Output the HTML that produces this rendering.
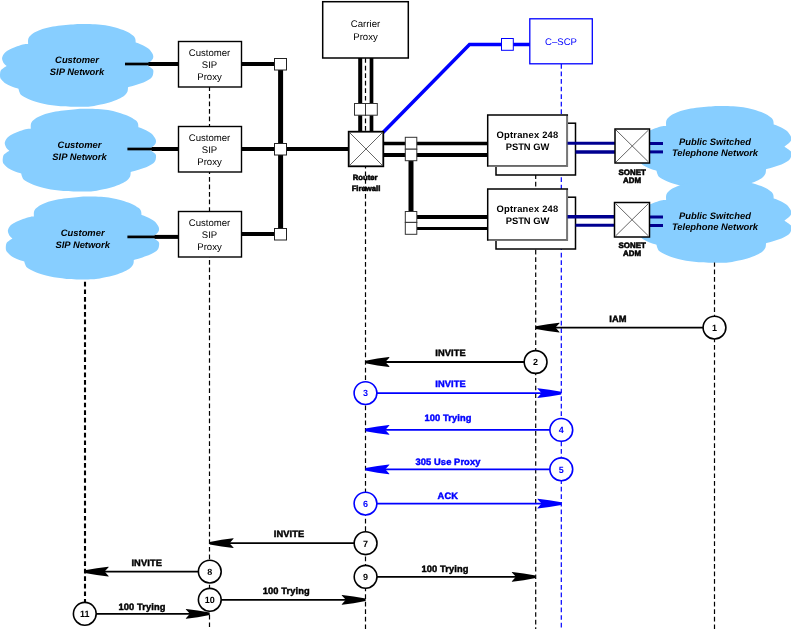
<!DOCTYPE html>
<html><head><meta charset="utf-8"><style>
html,body{margin:0;padding:0;background:#fff;width:791px;height:629px;overflow:hidden}
svg{display:block;will-change:transform}
text{font-family:"Liberation Sans",sans-serif;text-rendering:geometricPrecision}
</style></head><body>
<svg width="791" height="629" viewBox="0 0 791 629">
<path transform="translate(0,0)" fill="#87ceff" d="M28.1,44.0C28.12,43.20 27.83,40.58 28.20,39.20C28.57,37.82 29.10,36.88 30.30,35.70C31.50,34.52 33.37,33.20 35.40,32.10C37.43,31.00 39.97,29.93 42.50,29.10C45.03,28.27 47.57,27.68 50.60,27.10C53.63,26.52 57.33,26.02 60.70,25.60C64.07,25.18 67.58,24.87 70.80,24.60C74.02,24.33 75.93,24.07 80.00,24.00C84.07,23.93 90.98,23.98 95.20,24.20C99.42,24.42 101.93,24.73 105.30,25.30C108.67,25.87 112.03,26.63 115.40,27.60C118.77,28.57 122.63,29.83 125.50,31.10C128.37,32.37 131.00,34.02 132.60,35.20C134.20,36.38 134.58,36.98 135.10,38.20C135.62,39.42 135.60,41.78 135.70,42.50C136.68,42.87 139.50,43.70 141.60,44.70C143.70,45.70 146.55,47.12 148.30,48.50C150.05,49.88 151.27,51.67 152.10,53.00C152.93,54.33 153.32,55.33 153.30,56.50C153.28,57.67 153.15,58.63 152.00,60.00C150.85,61.37 147.33,63.92 146.40,64.70C147.42,65.42 151.35,67.70 152.50,69.00C153.65,70.30 153.42,71.13 153.30,72.50C153.18,73.87 153.10,75.70 151.80,77.20C150.50,78.70 148.03,80.23 145.50,81.50C142.97,82.77 139.52,83.83 136.60,84.80C133.68,85.77 129.43,86.88 128.00,87.30C127.92,87.98 128.08,90.05 127.50,91.40C126.92,92.75 126.02,94.15 124.50,95.40C122.98,96.65 120.93,97.72 118.40,98.90C115.87,100.08 112.67,101.48 109.30,102.50C105.93,103.52 101.40,104.33 98.20,105.00C95.00,105.67 93.13,106.20 90.10,106.50C87.07,106.80 84.90,106.83 80.00,106.80C75.10,106.77 66.62,106.77 60.70,106.30C54.78,105.83 49.05,104.88 44.50,104.00C39.95,103.12 36.43,102.02 33.40,101.00C30.37,99.98 28.33,98.92 26.30,97.90C24.27,96.88 22.38,95.98 21.20,94.90C20.02,93.82 19.65,92.42 19.20,91.40C18.75,90.38 18.62,89.23 18.50,88.80C17.27,88.38 13.17,87.13 11.10,86.30C9.03,85.47 7.45,84.65 6.10,83.80C4.75,82.95 3.98,82.25 3.00,81.20C2.02,80.15 0.62,79.18 0.20,77.50C-0.22,75.82 0.03,72.60 0.50,71.10C0.97,69.60 1.98,69.35 3.00,68.50C4.02,67.65 6.00,66.42 6.60,66.00C6.17,65.58 4.73,64.60 4.00,63.50C3.27,62.40 2.45,60.58 2.20,59.40C1.95,58.22 2.02,57.57 2.50,56.40C2.98,55.23 3.83,53.58 5.10,52.40C6.37,51.22 8.08,50.32 10.10,49.30C12.12,48.28 14.83,47.13 17.20,46.30C19.57,45.47 22.48,44.68 24.30,44.30C26.12,43.92 27.47,44.05 28.10,44.00Z"/>
<path transform="translate(2.7,84.8)" fill="#87ceff" d="M28.1,44.0C28.12,43.20 27.83,40.58 28.20,39.20C28.57,37.82 29.10,36.88 30.30,35.70C31.50,34.52 33.37,33.20 35.40,32.10C37.43,31.00 39.97,29.93 42.50,29.10C45.03,28.27 47.57,27.68 50.60,27.10C53.63,26.52 57.33,26.02 60.70,25.60C64.07,25.18 67.58,24.87 70.80,24.60C74.02,24.33 75.93,24.07 80.00,24.00C84.07,23.93 90.98,23.98 95.20,24.20C99.42,24.42 101.93,24.73 105.30,25.30C108.67,25.87 112.03,26.63 115.40,27.60C118.77,28.57 122.63,29.83 125.50,31.10C128.37,32.37 131.00,34.02 132.60,35.20C134.20,36.38 134.58,36.98 135.10,38.20C135.62,39.42 135.60,41.78 135.70,42.50C136.68,42.87 139.50,43.70 141.60,44.70C143.70,45.70 146.55,47.12 148.30,48.50C150.05,49.88 151.27,51.67 152.10,53.00C152.93,54.33 153.32,55.33 153.30,56.50C153.28,57.67 153.15,58.63 152.00,60.00C150.85,61.37 147.33,63.92 146.40,64.70C147.42,65.42 151.35,67.70 152.50,69.00C153.65,70.30 153.42,71.13 153.30,72.50C153.18,73.87 153.10,75.70 151.80,77.20C150.50,78.70 148.03,80.23 145.50,81.50C142.97,82.77 139.52,83.83 136.60,84.80C133.68,85.77 129.43,86.88 128.00,87.30C127.92,87.98 128.08,90.05 127.50,91.40C126.92,92.75 126.02,94.15 124.50,95.40C122.98,96.65 120.93,97.72 118.40,98.90C115.87,100.08 112.67,101.48 109.30,102.50C105.93,103.52 101.40,104.33 98.20,105.00C95.00,105.67 93.13,106.20 90.10,106.50C87.07,106.80 84.90,106.83 80.00,106.80C75.10,106.77 66.62,106.77 60.70,106.30C54.78,105.83 49.05,104.88 44.50,104.00C39.95,103.12 36.43,102.02 33.40,101.00C30.37,99.98 28.33,98.92 26.30,97.90C24.27,96.88 22.38,95.98 21.20,94.90C20.02,93.82 19.65,92.42 19.20,91.40C18.75,90.38 18.62,89.23 18.50,88.80C17.27,88.38 13.17,87.13 11.10,86.30C9.03,85.47 7.45,84.65 6.10,83.80C4.75,82.95 3.98,82.25 3.00,81.20C2.02,80.15 0.62,79.18 0.20,77.50C-0.22,75.82 0.03,72.60 0.50,71.10C0.97,69.60 1.98,69.35 3.00,68.50C4.02,67.65 6.00,66.42 6.60,66.00C6.17,65.58 4.73,64.60 4.00,63.50C3.27,62.40 2.45,60.58 2.20,59.40C1.95,58.22 2.02,57.57 2.50,56.40C2.98,55.23 3.83,53.58 5.10,52.40C6.37,51.22 8.08,50.32 10.10,49.30C12.12,48.28 14.83,47.13 17.20,46.30C19.57,45.47 22.48,44.68 24.30,44.30C26.12,43.92 27.47,44.05 28.10,44.00Z"/>
<path transform="translate(5.8,172.6)" fill="#87ceff" d="M28.1,44.0C28.12,43.20 27.83,40.58 28.20,39.20C28.57,37.82 29.10,36.88 30.30,35.70C31.50,34.52 33.37,33.20 35.40,32.10C37.43,31.00 39.97,29.93 42.50,29.10C45.03,28.27 47.57,27.68 50.60,27.10C53.63,26.52 57.33,26.02 60.70,25.60C64.07,25.18 67.58,24.87 70.80,24.60C74.02,24.33 75.93,24.07 80.00,24.00C84.07,23.93 90.98,23.98 95.20,24.20C99.42,24.42 101.93,24.73 105.30,25.30C108.67,25.87 112.03,26.63 115.40,27.60C118.77,28.57 122.63,29.83 125.50,31.10C128.37,32.37 131.00,34.02 132.60,35.20C134.20,36.38 134.58,36.98 135.10,38.20C135.62,39.42 135.60,41.78 135.70,42.50C136.68,42.87 139.50,43.70 141.60,44.70C143.70,45.70 146.55,47.12 148.30,48.50C150.05,49.88 151.27,51.67 152.10,53.00C152.93,54.33 153.32,55.33 153.30,56.50C153.28,57.67 153.15,58.63 152.00,60.00C150.85,61.37 147.33,63.92 146.40,64.70C147.42,65.42 151.35,67.70 152.50,69.00C153.65,70.30 153.42,71.13 153.30,72.50C153.18,73.87 153.10,75.70 151.80,77.20C150.50,78.70 148.03,80.23 145.50,81.50C142.97,82.77 139.52,83.83 136.60,84.80C133.68,85.77 129.43,86.88 128.00,87.30C127.92,87.98 128.08,90.05 127.50,91.40C126.92,92.75 126.02,94.15 124.50,95.40C122.98,96.65 120.93,97.72 118.40,98.90C115.87,100.08 112.67,101.48 109.30,102.50C105.93,103.52 101.40,104.33 98.20,105.00C95.00,105.67 93.13,106.20 90.10,106.50C87.07,106.80 84.90,106.83 80.00,106.80C75.10,106.77 66.62,106.77 60.70,106.30C54.78,105.83 49.05,104.88 44.50,104.00C39.95,103.12 36.43,102.02 33.40,101.00C30.37,99.98 28.33,98.92 26.30,97.90C24.27,96.88 22.38,95.98 21.20,94.90C20.02,93.82 19.65,92.42 19.20,91.40C18.75,90.38 18.62,89.23 18.50,88.80C17.27,88.38 13.17,87.13 11.10,86.30C9.03,85.47 7.45,84.65 6.10,83.80C4.75,82.95 3.98,82.25 3.00,81.20C2.02,80.15 0.62,79.18 0.20,77.50C-0.22,75.82 0.03,72.60 0.50,71.10C0.97,69.60 1.98,69.35 3.00,68.50C4.02,67.65 6.00,66.42 6.60,66.00C6.17,65.58 4.73,64.60 4.00,63.50C3.27,62.40 2.45,60.58 2.20,59.40C1.95,58.22 2.02,57.57 2.50,56.40C2.98,55.23 3.83,53.58 5.10,52.40C6.37,51.22 8.08,50.32 10.10,49.30C12.12,48.28 14.83,47.13 17.20,46.30C19.57,45.47 22.48,44.68 24.30,44.30C26.12,43.92 27.47,44.05 28.10,44.00Z"/>
<path transform="translate(638,82)" fill="#87ceff" d="M28.1,44.0C28.12,43.20 27.83,40.58 28.20,39.20C28.57,37.82 29.10,36.88 30.30,35.70C31.50,34.52 33.37,33.20 35.40,32.10C37.43,31.00 39.97,29.93 42.50,29.10C45.03,28.27 47.57,27.68 50.60,27.10C53.63,26.52 57.33,26.02 60.70,25.60C64.07,25.18 67.58,24.87 70.80,24.60C74.02,24.33 75.93,24.07 80.00,24.00C84.07,23.93 90.98,23.98 95.20,24.20C99.42,24.42 101.93,24.73 105.30,25.30C108.67,25.87 112.03,26.63 115.40,27.60C118.77,28.57 122.63,29.83 125.50,31.10C128.37,32.37 131.00,34.02 132.60,35.20C134.20,36.38 134.58,36.98 135.10,38.20C135.62,39.42 135.60,41.78 135.70,42.50C136.68,42.87 139.50,43.70 141.60,44.70C143.70,45.70 146.55,47.12 148.30,48.50C150.05,49.88 151.27,51.67 152.10,53.00C152.93,54.33 153.32,55.33 153.30,56.50C153.28,57.67 153.15,58.63 152.00,60.00C150.85,61.37 147.33,63.92 146.40,64.70C147.42,65.42 151.35,67.70 152.50,69.00C153.65,70.30 153.42,71.13 153.30,72.50C153.18,73.87 153.10,75.70 151.80,77.20C150.50,78.70 148.03,80.23 145.50,81.50C142.97,82.77 139.52,83.83 136.60,84.80C133.68,85.77 129.43,86.88 128.00,87.30C127.92,87.98 128.08,90.05 127.50,91.40C126.92,92.75 126.02,94.15 124.50,95.40C122.98,96.65 120.93,97.72 118.40,98.90C115.87,100.08 112.67,101.48 109.30,102.50C105.93,103.52 101.40,104.33 98.20,105.00C95.00,105.67 93.13,106.20 90.10,106.50C87.07,106.80 84.90,106.83 80.00,106.80C75.10,106.77 66.62,106.77 60.70,106.30C54.78,105.83 49.05,104.88 44.50,104.00C39.95,103.12 36.43,102.02 33.40,101.00C30.37,99.98 28.33,98.92 26.30,97.90C24.27,96.88 22.38,95.98 21.20,94.90C20.02,93.82 19.65,92.42 19.20,91.40C18.75,90.38 18.62,89.23 18.50,88.80C17.27,88.38 13.17,87.13 11.10,86.30C9.03,85.47 7.45,84.65 6.10,83.80C4.75,82.95 3.98,82.25 3.00,81.20C2.02,80.15 0.62,79.18 0.20,77.50C-0.22,75.82 0.03,72.60 0.50,71.10C0.97,69.60 1.98,69.35 3.00,68.50C4.02,67.65 6.00,66.42 6.60,66.00C6.17,65.58 4.73,64.60 4.00,63.50C3.27,62.40 2.45,60.58 2.20,59.40C1.95,58.22 2.02,57.57 2.50,56.40C2.98,55.23 3.83,53.58 5.10,52.40C6.37,51.22 8.08,50.32 10.10,49.30C12.12,48.28 14.83,47.13 17.20,46.30C19.57,45.47 22.48,44.68 24.30,44.30C26.12,43.92 27.47,44.05 28.10,44.00Z"/>
<path transform="translate(638,156)" fill="#87ceff" d="M28.1,44.0C28.12,43.20 27.83,40.58 28.20,39.20C28.57,37.82 29.10,36.88 30.30,35.70C31.50,34.52 33.37,33.20 35.40,32.10C37.43,31.00 39.97,29.93 42.50,29.10C45.03,28.27 47.57,27.68 50.60,27.10C53.63,26.52 57.33,26.02 60.70,25.60C64.07,25.18 67.58,24.87 70.80,24.60C74.02,24.33 75.93,24.07 80.00,24.00C84.07,23.93 90.98,23.98 95.20,24.20C99.42,24.42 101.93,24.73 105.30,25.30C108.67,25.87 112.03,26.63 115.40,27.60C118.77,28.57 122.63,29.83 125.50,31.10C128.37,32.37 131.00,34.02 132.60,35.20C134.20,36.38 134.58,36.98 135.10,38.20C135.62,39.42 135.60,41.78 135.70,42.50C136.68,42.87 139.50,43.70 141.60,44.70C143.70,45.70 146.55,47.12 148.30,48.50C150.05,49.88 151.27,51.67 152.10,53.00C152.93,54.33 153.32,55.33 153.30,56.50C153.28,57.67 153.15,58.63 152.00,60.00C150.85,61.37 147.33,63.92 146.40,64.70C147.42,65.42 151.35,67.70 152.50,69.00C153.65,70.30 153.42,71.13 153.30,72.50C153.18,73.87 153.10,75.70 151.80,77.20C150.50,78.70 148.03,80.23 145.50,81.50C142.97,82.77 139.52,83.83 136.60,84.80C133.68,85.77 129.43,86.88 128.00,87.30C127.92,87.98 128.08,90.05 127.50,91.40C126.92,92.75 126.02,94.15 124.50,95.40C122.98,96.65 120.93,97.72 118.40,98.90C115.87,100.08 112.67,101.48 109.30,102.50C105.93,103.52 101.40,104.33 98.20,105.00C95.00,105.67 93.13,106.20 90.10,106.50C87.07,106.80 84.90,106.83 80.00,106.80C75.10,106.77 66.62,106.77 60.70,106.30C54.78,105.83 49.05,104.88 44.50,104.00C39.95,103.12 36.43,102.02 33.40,101.00C30.37,99.98 28.33,98.92 26.30,97.90C24.27,96.88 22.38,95.98 21.20,94.90C20.02,93.82 19.65,92.42 19.20,91.40C18.75,90.38 18.62,89.23 18.50,88.80C17.27,88.38 13.17,87.13 11.10,86.30C9.03,85.47 7.45,84.65 6.10,83.80C4.75,82.95 3.98,82.25 3.00,81.20C2.02,80.15 0.62,79.18 0.20,77.50C-0.22,75.82 0.03,72.60 0.50,71.10C0.97,69.60 1.98,69.35 3.00,68.50C4.02,67.65 6.00,66.42 6.60,66.00C6.17,65.58 4.73,64.60 4.00,63.50C3.27,62.40 2.45,60.58 2.20,59.40C1.95,58.22 2.02,57.57 2.50,56.40C2.98,55.23 3.83,53.58 5.10,52.40C6.37,51.22 8.08,50.32 10.10,49.30C12.12,48.28 14.83,47.13 17.20,46.30C19.57,45.47 22.48,44.68 24.30,44.30C26.12,43.92 27.47,44.05 28.10,44.00Z"/>
<line x1="85" y1="281.5" x2="85" y2="602.2" stroke="#000" stroke-width="2.1" stroke-dasharray="4.7 2.85" stroke-dashoffset="7.20"/><line x1="209.5" y1="87" x2="209.5" y2="629" stroke="#000" stroke-width="1.2" stroke-dasharray="4.7 2.85" stroke-dashoffset="0.65"/><line x1="365.5" y1="58" x2="365.5" y2="629" stroke="#000" stroke-width="1.2" stroke-dasharray="4.7 2.85" stroke-dashoffset="7.40"/><line x1="535.7" y1="175" x2="535.7" y2="629" stroke="#000" stroke-width="1.2" stroke-dasharray="4.7 2.85" stroke-dashoffset="0.75"/><line x1="561.3" y1="64" x2="561.3" y2="629" stroke="#0000ff" stroke-width="1.2" stroke-dasharray="4.7 2.85" stroke-dashoffset="0.00"/><line x1="714.5" y1="262.5" x2="714.5" y2="629" stroke="#000" stroke-width="1.2" stroke-dasharray="4.7 2.85" stroke-dashoffset="0.50"/>
<text x="77" y="63" font-size="9.4" font-weight="bold" font-style="italic" fill="#000" text-anchor="middle" >Customer</text>
<text x="77" y="75" font-size="9.4" font-weight="bold" font-style="italic" fill="#000" text-anchor="middle" >SIP Network</text>
<text x="79.5" y="147.6" font-size="9.4" font-weight="bold" font-style="italic" fill="#000" text-anchor="middle" >Customer</text>
<text x="79.5" y="159.6" font-size="9.4" font-weight="bold" font-style="italic" fill="#000" text-anchor="middle" >SIP Network</text>
<text x="82.7" y="236" font-size="9.4" font-weight="bold" font-style="italic" fill="#000" text-anchor="middle" >Customer</text>
<text x="82.7" y="248" font-size="9.4" font-weight="bold" font-style="italic" fill="#000" text-anchor="middle" >SIP Network</text>
<text x="715" y="144.9" font-size="9.4" font-weight="bold" font-style="italic" fill="#000" text-anchor="middle" >Public Switched</text>
<text x="715" y="155.70000000000002" font-size="9.4" font-weight="bold" font-style="italic" fill="#000" text-anchor="middle" >Telephone Network</text>
<text x="715" y="219.3" font-size="9.4" font-weight="bold" font-style="italic" fill="#000" text-anchor="middle" >Public Switched</text>
<text x="715" y="230.10000000000002" font-size="9.4" font-weight="bold" font-style="italic" fill="#000" text-anchor="middle" >Telephone Network</text>
<line x1="125" y1="64" x2="148.9" y2="64" stroke="#000" stroke-width="2.7" />
<line x1="148.4" y1="64" x2="178.5" y2="64" stroke="#000" stroke-width="4" />
<line x1="127.4" y1="149" x2="152.2" y2="149" stroke="#000" stroke-width="2.7" />
<line x1="151.7" y1="149" x2="178.5" y2="149" stroke="#000" stroke-width="4" />
<line x1="127.4" y1="236.9" x2="155.1" y2="236.9" stroke="#000" stroke-width="2.7" />
<line x1="154.6" y1="236.9" x2="178.5" y2="236.9" stroke="#000" stroke-width="4" />
<line x1="241" y1="64" x2="278" y2="64" stroke="#000" stroke-width="4" />
<line x1="241" y1="149" x2="349" y2="149" stroke="#000" stroke-width="4" />
<line x1="241" y1="234" x2="278" y2="234" stroke="#000" stroke-width="4" />
<line x1="280.6" y1="64" x2="280.6" y2="234" stroke="#000" stroke-width="5" />
<rect x="274.5" y="58.5" width="12.0" height="11.5" stroke="#222" stroke-width="1" fill="#fff"/>
<rect x="274.5" y="143.5" width="12.0" height="11.5" stroke="#222" stroke-width="1" fill="#fff"/>
<rect x="274.5" y="228.5" width="12.0" height="11.5" stroke="#222" stroke-width="1" fill="#fff"/>
<rect x="178.5" y="41.5" width="63.0" height="45.5" stroke="#000" stroke-width="1.4" fill="#fff"/>
<text transform="translate(209.5,56.3) scale(1.0,1.0)" font-size="9.6" font-weight="normal" font-style="normal" fill="#000" text-anchor="middle" >Customer</text>
<text transform="translate(209.5,67.8) scale(1.0,1.0)" font-size="9.6" font-weight="normal" font-style="normal" fill="#000" text-anchor="middle" >SIP</text>
<text transform="translate(209.5,80.1) scale(1.0,1.0)" font-size="9.6" font-weight="normal" font-style="normal" fill="#000" text-anchor="middle" >Proxy</text>
<rect x="178.5" y="126.5" width="63.0" height="45.5" stroke="#000" stroke-width="1.4" fill="#fff"/>
<text transform="translate(209.5,141.3) scale(1.0,1.0)" font-size="9.6" font-weight="normal" font-style="normal" fill="#000" text-anchor="middle" >Customer</text>
<text transform="translate(209.5,152.8) scale(1.0,1.0)" font-size="9.6" font-weight="normal" font-style="normal" fill="#000" text-anchor="middle" >SIP</text>
<text transform="translate(209.5,165.1) scale(1.0,1.0)" font-size="9.6" font-weight="normal" font-style="normal" fill="#000" text-anchor="middle" >Proxy</text>
<rect x="178.5" y="211.5" width="63.0" height="45.5" stroke="#000" stroke-width="1.4" fill="#fff"/>
<text transform="translate(209.5,226.3) scale(1.0,1.0)" font-size="9.6" font-weight="normal" font-style="normal" fill="#000" text-anchor="middle" >Customer</text>
<text transform="translate(209.5,237.8) scale(1.0,1.0)" font-size="9.6" font-weight="normal" font-style="normal" fill="#000" text-anchor="middle" >SIP</text>
<text transform="translate(209.5,250.1) scale(1.0,1.0)" font-size="9.6" font-weight="normal" font-style="normal" fill="#000" text-anchor="middle" >Proxy</text>
<rect x="322.7" y="1.7" width="85.60000000000002" height="56.3" stroke="#000" stroke-width="1.5" fill="#fff"/>
<text transform="translate(365.5,27.1) scale(1.0,1.0)" font-size="9.6" font-weight="normal" font-style="normal" fill="#000" text-anchor="middle" >Carrier</text>
<text transform="translate(365.5,39.6) scale(1.0,1.0)" font-size="9.6" font-weight="normal" font-style="normal" fill="#000" text-anchor="middle" >Proxy</text>
<line x1="360.2" y1="58" x2="360.2" y2="132" stroke="#000" stroke-width="4" />
<line x1="371.5" y1="58" x2="371.5" y2="132" stroke="#000" stroke-width="3.7" />
<rect x="354.5" y="103.5" width="11.0" height="11.700000000000003" stroke="#333" stroke-width="1" fill="#fff"/>
<rect x="365.5" y="103.5" width="11.800000000000011" height="11.700000000000003" stroke="#333" stroke-width="1" fill="#fff"/>
<polyline points="383,132.5 469.5,44.6 530,44.6" fill="none" stroke="#0000ff" stroke-width="3.5"/>
<rect x="501.5" y="38.5" width="11.799999999999955" height="11.799999999999997" stroke="#0000ff" stroke-width="1" fill="#fff"/>
<rect x="529.8" y="18.8" width="62.5" height="45.0" stroke="#0000ff" stroke-width="1.3" fill="#fff"/>
<text x="561" y="45" font-size="9.6" font-weight="normal" font-style="normal" fill="#0000ff" text-anchor="middle" >C–SCP</text>
<line x1="383.5" y1="143.4" x2="488" y2="143.4" stroke="#000" stroke-width="3.5" />
<line x1="383.5" y1="155" x2="488" y2="155" stroke="#000" stroke-width="4" />
<line x1="411" y1="161" x2="411" y2="211" stroke="#000" stroke-width="5" />
<line x1="417" y1="217" x2="488" y2="217" stroke="#000" stroke-width="4" />
<line x1="417" y1="228.4" x2="488" y2="228.4" stroke="#000" stroke-width="3" />
<rect x="405.3" y="137.3" width="11.5" height="11.899999999999977" stroke="#333" stroke-width="1" fill="#fff"/>
<rect x="405.3" y="149.2" width="11.5" height="11.5" stroke="#333" stroke-width="1" fill="#fff"/>
<rect x="405.3" y="211.5" width="11.5" height="10.900000000000006" stroke="#333" stroke-width="1" fill="#fff"/>
<rect x="405.3" y="222.4" width="11.5" height="11.900000000000006" stroke="#333" stroke-width="1" fill="#fff"/>
<rect x="348.7" y="131.7" width="34.60000000000002" height="34.60000000000002" stroke="#000" stroke-width="1.8" fill="#fff"/>
<line x1="349.5" y1="132.5" x2="382.5" y2="165.5" stroke="#555" stroke-width="0.9" />
<line x1="382.5" y1="132.5" x2="349.5" y2="165.5" stroke="#555" stroke-width="0.9" />
<text x="365.2" y="180.2" font-size="7.7" font-weight="bold" font-style="normal" fill="#000" text-anchor="middle" stroke="#000" stroke-width="0.55">Router</text>
<text x="366" y="190.8" font-size="7.7" font-weight="bold" font-style="normal" fill="#000" text-anchor="middle" stroke="#000" stroke-width="0.55">Firewall</text>
<rect x="496" y="123.2" width="79.5" height="51.8" stroke="#000" stroke-width="1.5" fill="#fff"/>
<rect x="487.7" y="115" width="79.59999999999997" height="51" stroke="#000" stroke-width="1.5" fill="#fff"/>
<polyline points="567.2,115.8 567.2,166.1 488.5,166.1" fill="none" stroke="#777" stroke-width="1.6"/>
<text x="527.5" y="138.3" font-size="9.4" font-weight="bold" font-style="normal" fill="#000" text-anchor="middle" letter-spacing="0.2">Optranex 248</text>
<text x="527.5" y="149.8" font-size="9.4" font-weight="bold" font-style="normal" fill="#000" text-anchor="middle" >PSTN GW</text>
<rect x="496" y="197.2" width="79.5" height="51.80000000000001" stroke="#000" stroke-width="1.5" fill="#fff"/>
<rect x="487.7" y="189" width="79.59999999999997" height="51" stroke="#000" stroke-width="1.5" fill="#fff"/>
<polyline points="567.2,189.8 567.2,240.1 488.5,240.1" fill="none" stroke="#777" stroke-width="1.6"/>
<text x="527.5" y="212.3" font-size="9.4" font-weight="bold" font-style="normal" fill="#000" text-anchor="middle" letter-spacing="0.2">Optranex 248</text>
<text x="527.5" y="223.8" font-size="9.4" font-weight="bold" font-style="normal" fill="#000" text-anchor="middle" >PSTN GW</text>
<line x1="567.5" y1="143.3" x2="615" y2="143.3" stroke="#000090" stroke-width="3" />
<line x1="575.5" y1="152" x2="615" y2="152" stroke="#000090" stroke-width="3.5" />
<line x1="567.5" y1="216.8" x2="615" y2="216.8" stroke="#000090" stroke-width="3.5" />
<line x1="575.5" y1="225.3" x2="615" y2="225.3" stroke="#000090" stroke-width="3" />
<line x1="649.5" y1="143.5" x2="663" y2="143.5" stroke="#000090" stroke-width="3" />
<line x1="649.5" y1="151.9" x2="663" y2="151.9" stroke="#000090" stroke-width="3" />
<line x1="649.5" y1="217" x2="663" y2="217" stroke="#000090" stroke-width="3" />
<line x1="649.5" y1="225.5" x2="663" y2="225.5" stroke="#000090" stroke-width="3" />
<rect x="615" y="129" width="34.5" height="34" stroke="#000" stroke-width="1.5" fill="#fff"/>
<line x1="616" y1="130" x2="648.5" y2="162" stroke="#555" stroke-width="0.9" />
<line x1="648.5" y1="130" x2="616" y2="162" stroke="#555" stroke-width="0.9" />
<text x="632.2" y="174.9" font-size="7.9" font-weight="bold" font-style="normal" fill="#000" text-anchor="middle" stroke="#000" stroke-width="0.55">SONET</text>
<text x="632.0" y="183.0" font-size="7.9" font-weight="bold" font-style="normal" fill="#000" text-anchor="middle" stroke="#000" stroke-width="0.55">ADM</text>
<rect x="614.5" y="202.5" width="35.0" height="34.5" stroke="#000" stroke-width="1.5" fill="#fff"/>
<line x1="615.5" y1="203.5" x2="648.5" y2="236" stroke="#555" stroke-width="0.9" />
<line x1="648.5" y1="203.5" x2="615.5" y2="236" stroke="#555" stroke-width="0.9" />
<text x="632.2" y="248.0" font-size="7.9" font-weight="bold" font-style="normal" fill="#000" text-anchor="middle" stroke="#000" stroke-width="0.55">SONET</text>
<text x="632.0" y="256.1" font-size="7.9" font-weight="bold" font-style="normal" fill="#000" text-anchor="middle" stroke="#000" stroke-width="0.55">ADM</text>
<line x1="714.5" y1="327.6" x2="553.7" y2="327.6" stroke="#000" stroke-width="1.8" />
<path d="M535.70,326.30 L547.70,324.20 L559.20,322.70 L559.70,323.00 L555.50,327.60 L559.70,332.20 L559.20,332.50 L547.70,331.00 L535.70,328.90 Z" fill="#000"/>
<circle cx="714.5" cy="327.6" r="11.4" fill="#fff" stroke="#000" stroke-width="1.6"/>
<text x="714.5" y="330.90000000000003" font-size="9" font-weight="bold" font-style="normal" fill="#000" text-anchor="middle" >1</text>
<text x="618" y="322.3" font-size="9.3" font-weight="bold" font-style="normal" fill="#000" text-anchor="middle" stroke="#000" stroke-width="0.45" letter-spacing="0.1">IAM</text>
<line x1="535.6" y1="362" x2="383.5" y2="362" stroke="#000" stroke-width="1.8" />
<path d="M365.50,360.70 L377.50,358.60 L389.00,357.10 L389.50,357.40 L385.30,362.00 L389.50,366.60 L389.00,366.90 L377.50,365.40 L365.50,363.30 Z" fill="#000"/>
<circle cx="535.6" cy="362" r="11.4" fill="#fff" stroke="#000" stroke-width="1.6"/>
<text x="535.6" y="365.3" font-size="9" font-weight="bold" font-style="normal" fill="#000" text-anchor="middle" >2</text>
<text x="450.5" y="355.9" font-size="9.3" font-weight="bold" font-style="normal" fill="#000" text-anchor="middle" stroke="#000" stroke-width="0.45" letter-spacing="0.1">INVITE</text>
<line x1="365.5" y1="393.1" x2="543.3" y2="393.1" stroke="#0000ff" stroke-width="1.8" />
<path d="M561.30,391.80 L549.30,389.70 L537.80,388.20 L537.30,388.50 L541.50,393.10 L537.30,397.70 L537.80,398.00 L549.30,396.50 L561.30,394.40 Z" fill="#0000ff"/>
<circle cx="365.5" cy="393.1" r="11.4" fill="#fff" stroke="#0000ff" stroke-width="1.6"/>
<text x="365.5" y="396.40000000000003" font-size="9" font-weight="bold" font-style="normal" fill="#0000ff" text-anchor="middle" >3</text>
<text x="450.5" y="387.0" font-size="9.3" font-weight="bold" font-style="normal" fill="#0000ff" text-anchor="middle" stroke="#0000ff" stroke-width="0.45" letter-spacing="0.1">INVITE</text>
<line x1="561.3" y1="429.9" x2="383.5" y2="429.9" stroke="#0000ff" stroke-width="1.8" />
<path d="M365.50,428.60 L377.50,426.50 L389.00,425.00 L389.50,425.30 L385.30,429.90 L389.50,434.50 L389.00,434.80 L377.50,433.30 L365.50,431.20 Z" fill="#0000ff"/>
<circle cx="561.3" cy="429.9" r="11.4" fill="#fff" stroke="#0000ff" stroke-width="1.6"/>
<text x="561.3" y="433.2" font-size="9" font-weight="bold" font-style="normal" fill="#0000ff" text-anchor="middle" >4</text>
<text x="448" y="421.3" font-size="9.3" font-weight="bold" font-style="normal" fill="#0000ff" text-anchor="middle" stroke="#0000ff" stroke-width="0.45" letter-spacing="0.1">100 Trying</text>
<line x1="561.3" y1="469.3" x2="383.5" y2="469.3" stroke="#0000ff" stroke-width="1.8" />
<path d="M365.50,468.00 L377.50,465.90 L389.00,464.40 L389.50,464.70 L385.30,469.30 L389.50,473.90 L389.00,474.20 L377.50,472.70 L365.50,470.60 Z" fill="#0000ff"/>
<circle cx="561.3" cy="469.3" r="11.4" fill="#fff" stroke="#0000ff" stroke-width="1.6"/>
<text x="561.3" y="472.6" font-size="9" font-weight="bold" font-style="normal" fill="#0000ff" text-anchor="middle" >5</text>
<text x="448" y="464.7" font-size="9.3" font-weight="bold" font-style="normal" fill="#0000ff" text-anchor="middle" stroke="#0000ff" stroke-width="0.45" letter-spacing="0.1">305 Use Proxy</text>
<line x1="365.5" y1="503.6" x2="543.3" y2="503.6" stroke="#0000ff" stroke-width="1.8" />
<path d="M561.30,502.30 L549.30,500.20 L537.80,498.70 L537.30,499.00 L541.50,503.60 L537.30,508.20 L537.80,508.50 L549.30,507.00 L561.30,504.90 Z" fill="#0000ff"/>
<circle cx="365.5" cy="503.6" r="11.4" fill="#fff" stroke="#0000ff" stroke-width="1.6"/>
<text x="365.5" y="506.90000000000003" font-size="9" font-weight="bold" font-style="normal" fill="#0000ff" text-anchor="middle" >6</text>
<text x="447.8" y="498.5" font-size="9.3" font-weight="bold" font-style="normal" fill="#0000ff" text-anchor="middle" stroke="#0000ff" stroke-width="0.45" letter-spacing="0.1">ACK</text>
<line x1="365.6" y1="543.2" x2="227.7" y2="543.2" stroke="#000" stroke-width="1.8" />
<path d="M209.70,541.90 L221.70,539.80 L233.20,538.30 L233.70,538.60 L229.50,543.20 L233.70,547.80 L233.20,548.10 L221.70,546.60 L209.70,544.50 Z" fill="#000"/>
<circle cx="365.6" cy="543.2" r="11.4" fill="#fff" stroke="#000" stroke-width="1.6"/>
<text x="365.6" y="546.5" font-size="9" font-weight="bold" font-style="normal" fill="#000" text-anchor="middle" >7</text>
<text x="289" y="536.9" font-size="9.3" font-weight="bold" font-style="normal" fill="#000" text-anchor="middle" stroke="#000" stroke-width="0.45" letter-spacing="0.1">INVITE</text>
<line x1="209.8" y1="571.6" x2="102.8" y2="571.6" stroke="#000" stroke-width="1.8" />
<path d="M84.80,570.30 L96.80,568.20 L108.30,566.70 L108.80,567.00 L104.60,571.60 L108.80,576.20 L108.30,576.50 L96.80,575.00 L84.80,572.90 Z" fill="#000"/>
<circle cx="209.8" cy="571.6" r="11.4" fill="#fff" stroke="#000" stroke-width="1.6"/>
<text x="209.8" y="574.9" font-size="9" font-weight="bold" font-style="normal" fill="#000" text-anchor="middle" >8</text>
<text x="146.7" y="566.3" font-size="9.3" font-weight="bold" font-style="normal" fill="#000" text-anchor="middle" stroke="#000" stroke-width="0.45" letter-spacing="0.1">INVITE</text>
<line x1="365.6" y1="576.8" x2="517.7" y2="576.8" stroke="#000" stroke-width="1.8" />
<path d="M535.70,575.50 L523.70,573.40 L512.20,571.90 L511.70,572.20 L515.90,576.80 L511.70,581.40 L512.20,581.70 L523.70,580.20 L535.70,578.10 Z" fill="#000"/>
<circle cx="365.6" cy="576.8" r="11.4" fill="#fff" stroke="#000" stroke-width="1.6"/>
<text x="365.6" y="580.0999999999999" font-size="9" font-weight="bold" font-style="normal" fill="#000" text-anchor="middle" >9</text>
<text x="445" y="571.7" font-size="9.3" font-weight="bold" font-style="normal" fill="#000" text-anchor="middle" stroke="#000" stroke-width="0.45" letter-spacing="0.1">100 Trying</text>
<line x1="209.8" y1="599.8" x2="347.6" y2="599.8" stroke="#000" stroke-width="1.8" />
<path d="M365.60,598.50 L353.60,596.40 L342.10,594.90 L341.60,595.20 L345.80,599.80 L341.60,604.40 L342.10,604.70 L353.60,603.20 L365.60,601.10 Z" fill="#000"/>
<circle cx="209.8" cy="599.8" r="11.4" fill="#fff" stroke="#000" stroke-width="1.6"/>
<text x="209.8" y="603.0999999999999" font-size="9" font-weight="bold" font-style="normal" fill="#000" text-anchor="middle" >10</text>
<text x="286.3" y="594.3" font-size="9.3" font-weight="bold" font-style="normal" fill="#000" text-anchor="middle" stroke="#000" stroke-width="0.45" letter-spacing="0.1">100 Trying</text>
<line x1="84.8" y1="613.8" x2="191.7" y2="613.8" stroke="#000" stroke-width="1.8" />
<path d="M209.70,612.50 L197.70,610.40 L186.20,608.90 L185.70,609.20 L189.90,613.80 L185.70,618.40 L186.20,618.70 L197.70,617.20 L209.70,615.10 Z" fill="#000"/>
<circle cx="84.8" cy="613.8" r="11.4" fill="#fff" stroke="#000" stroke-width="1.6"/>
<text x="84.8" y="617.0999999999999" font-size="9" font-weight="bold" font-style="normal" fill="#000" text-anchor="middle" >11</text>
<text x="142" y="609.5" font-size="9.3" font-weight="bold" font-style="normal" fill="#000" text-anchor="middle" stroke="#000" stroke-width="0.45" letter-spacing="0.1">100 Trying</text>
</svg>
</body></html>
